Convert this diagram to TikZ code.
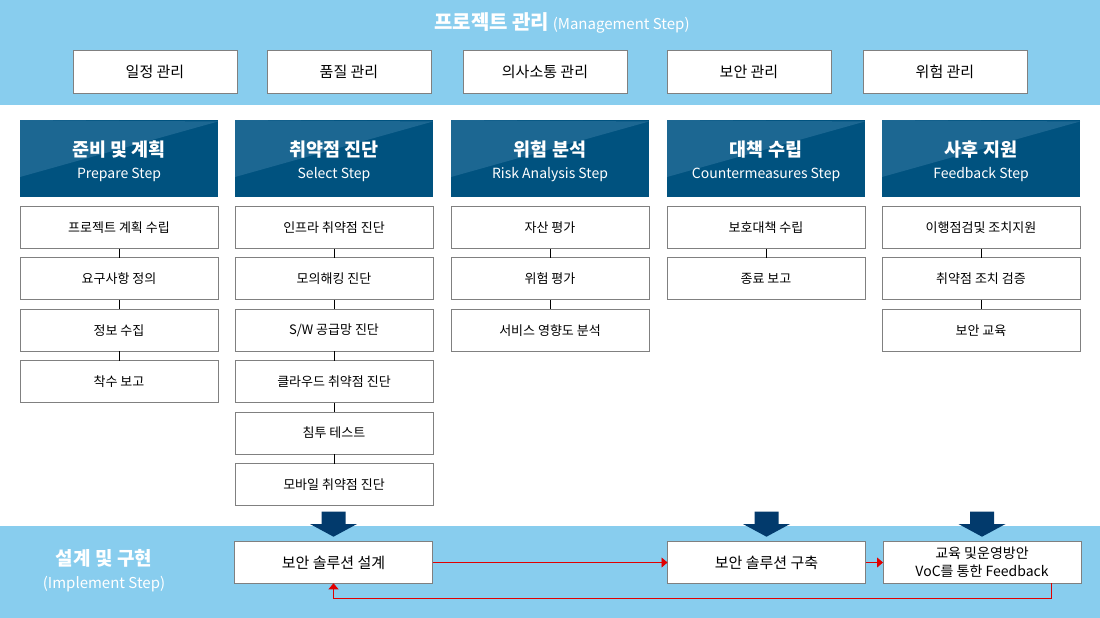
\documentclass[tikz,border=0pt]{standalone}
\usepackage{fontspec}
\setmainfont{Noto Sans CJK KR}
\usetikzlibrary{positioning,arrows.meta}
\definecolor{bandblue}{HTML}{88CDEE}
\definecolor{stepblue}{HTML}{00527F}
\definecolor{stepshine}{HTML}{1C6792}
\definecolor{pushblue}{HTML}{023A6C}
\definecolor{boxgray}{HTML}{808080}
\definecolor{flowred}{HTML}{E00000}
\tikzset{
	mgmt/.style={draw=boxgray,line width=1pt,fill=white,minimum width=164pt,minimum height=43pt,inner sep=0pt,outer sep=0pt,font=\fontsize{15}{17}\selectfont},
	stephead/.style={fill=stepblue,minimum width=198pt,minimum height=77pt,inner sep=0pt,outer sep=0pt,text=white,align=center,font=\fontsize{14}{22}\selectfont,
		path picture={\fill[stepshine] (path picture bounding box.north west) -- ([yshift=-1.5pt]path picture bounding box.north east) -- ([yshift=20pt]path picture bounding box.south west) -- cycle;}},
	task/.style={draw=boxgray,line width=1pt,fill=white,minimum width=198pt,minimum height=42pt,inner sep=0pt,outer sep=0pt,font=\fontsize{13}{15}\selectfont},
	solution/.style={task,minimum height=41.6pt,align=center,font=\fontsize{15}{17.7}\selectfont},
	tie/.style={draw=black,line width=0.8pt},
	flow/.style={draw=flowred,line width=0.8pt,-{Triangle[length=6pt,width=10pt]}},
	push/.style={fill=pushblue},
	bandtext/.style={text=white,align=center,inner sep=0pt},
}
\newcommand{\steptitle}[1]{\rule{0pt}{21pt}{\fontsize{18.5}{22}\selectfont\bfseries #1}}
\begin{document}
\begin{tikzpicture}[x=1pt,y=-1pt,node distance=9.4pt]
	\useasboundingbox (0,0) rectangle (1100,618);
	\fill[bandblue] (0,0) rectangle (1100,104.5);
	\fill[bandblue] (0,526) rectangle (1100,618);

	\node[bandtext,font=\fontsize{15}{17}\selectfont] (mtitle) at (562,23) {{\bfseries\fontsize{20}{22}\selectfont 프로젝트 관리} (Management Step)};
	\node[mgmt] (m1) at (155,72) {일정 관리};
	\node[mgmt] (m2) at (349,72) {품질 관리};
	\node[mgmt] (m3) at (545,72) {의사소통 관리};
	\node[mgmt] (m4) at (749,72) {보안 관리};
	\node[mgmt] (m5) at (945,72) {위험 관리};

	\node[stephead] (hp) at (119,158.5) {\steptitle{준비 및 계획}\\Prepare Step};
	\node[stephead] (hs) at (334,158.5) {\steptitle{취약점 진단}\\Select Step};
	\node[stephead] (hr) at (550,158.5) {\steptitle{위험 분석}\\Risk Analysis Step};
	\node[stephead] (hc) at (766,158.5) {\steptitle{대책 수립}\\Countermeasures Step};
	\node[stephead] (hf) at (981,158.5) {\steptitle{사후 지원}\\Feedback Step};

	\node[task] (p1) at (119,227.5) {프로젝트 계획 수립};
	\node[task,below=of p1] (p2) {요구사항 정의};
	\node[task,below=of p2] (p3) {정보 수집};
	\node[task,below=of p3] (p4) {착수 보고};

	\node[task] (s1) at (334,227.5) {인프라 취약점 진단};
	\node[task,below=of s1] (s2) {모의해킹 진단};
	\node[task,below=of s2] (s3) {S/W 공급망 진단};
	\node[task,below=of s3] (s4) {클라우드 취약점 진단};
	\node[task,below=of s4] (s5) {침투 테스트};
	\node[task,below=of s5] (s6) {모바일 취약점 진단};

	\node[task] (r1) at (550,227.5) {자산 평가};
	\node[task,below=of r1] (r2) {위험 평가};
	\node[task,below=of r2] (r3) {서비스 영향도 분석};

	\node[task] (c1) at (766,227.5) {보호대책 수립};
	\node[task,below=of c1] (c2) {종료 보고};

	\node[task] (f1) at (981,227.5) {이행점검및 조치지원};
	\node[task,below=of f1] (f2) {취약점 조치 검증};
	\node[task,below=of f2] (f3) {보안 교육};

	\draw[tie] (p1) -- (p2) (p2) -- (p3) (p3) -- (p4);
	\draw[tie] (s1) -- (s2) (s2) -- (s3) (s3) -- (s4) (s4) -- (s5) (s5) -- (s6);
	\draw[tie] (r1) -- (r2) (r2) -- (r3);
	\draw[tie] (c1) -- (c2);
	\draw[tie] (f1) -- (f2) (f2) -- (f3);

	\node[bandtext,font=\fontsize{15}{23}\selectfont] (impl) at (104,571) {{\bfseries\fontsize{19}{23}\selectfont 설계 및 구현}\\(Implement Step)};
	\node[solution] (design) at (333.5,562.5) {보안 솔루션 설계};
	\node[solution] (build) at (766.5,562.5) {보안 솔루션 구축};
	\node[solution,font=\fontsize{14}{17.7}\selectfont] (voc) at (982,562.5) {교육 및운영방안\\VoC를 통한 Feedback};

	\foreach \n in {design,build,voc}
		\fill[push] ([xshift=-12pt,yshift=30pt]\n.north) -- ++(24,0) -- ++(0,12.3) -- ++(11.5,0) -- ++(-23.5,12.7) -- ++(-23.5,-12.7) -- ++(11.5,0) -- cycle;

	\draw[flow] (design) -- (build);
	\draw[flow] (build) -- (voc);
	\draw[flow] ([xshift=69pt]voc.south) -- ++(0,15) -| (design.south);
\end{tikzpicture}
\end{document}
